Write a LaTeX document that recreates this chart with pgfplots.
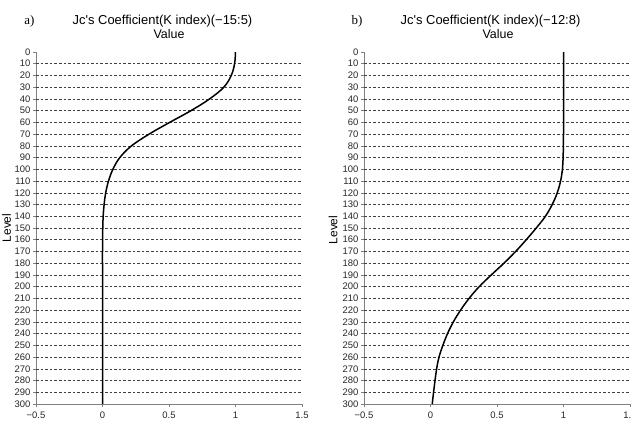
\documentclass[border=0pt]{standalone}
\usepackage{pgfplots}
\pgfplotsset{compat=1.18}
\usepackage{pgfplotstable}
\usepackage{fontspec}
\setmainfont{Liberation Sans}
\newfontfamily\serif{Liberation Serif}

\pgfplotstableread{
val lev
1.000 0
0.993 10
0.968 20
0.912 30
0.805 40
0.665 50
0.505 60
0.350 70
0.218 80
0.130 90
0.078 100
0.045 110
0.024 120
0.012 130
0.005 140
0.002 150
0.001 160
0.000 170
0.000 180
0.000 190
0.000 200
0.000 210
0.000 220
0.000 230
0.000 240
0.000 250
0.000 260
0.000 270
0.000 280
0.000 290
0.000 300
}\dataA

\pgfplotstableread{
val lev
1.000 0
1.000 10
1.000 20
1.000 30
1.000 40
1.000 50
1.000 60
1.000 70
0.999 80
0.997 90
0.992 100
0.978 110
0.953 120
0.915 130
0.864 140
0.795 150
0.720 160
0.640 170
0.552 180
0.457 190
0.366 200
0.290 210
0.226 220
0.172 230
0.128 240
0.093 250
0.064 260
0.046 270
0.034 280
0.023 290
0.013 300
}\dataB

\pgfplotsset{myax/.style={
  width=266bp, height=352bp, scale only axis,
  xmin=-0.5, xmax=1.5, ymin=0, ymax=300, y dir=reverse,
  axis x line*=bottom, axis y line*=left,
  axis line style={black!50, line width=0.8bp, -},
  xtick={-0.5,0,0.5,1,1.5}, xticklabels={−0.5,0,0.5,1,1.5},
  ytick={0,10,...,300},
  extra y ticks={10,20,...,290}, extra y tick labels={},
  extra y tick style={grid=major, major tick length=0pt},
  grid style={black!75, line width=0.6bp, dash pattern=on 2.6bp off 2bp},
  tick align=outside, major tick length=3bp,
  tick style={black!50, line width=0.6bp},
  /pgf/number format/assume math mode=true,
  tick label style={font=\fontsize{9.5}{10}\selectfont, text=black!85},
  yticklabel style={xshift=1bp},
  xticklabel style={yshift=-1bp},
}}

\begin{document}
\begin{tikzpicture}
\path[use as bounding box] (0,0) rectangle (631bp,434bp);
\begin{axis}[myax, at={(36bp,30bp)}, anchor=south west]
\addplot[black, line width=1.5bp, smooth, tension=0.6] table[x=val, y=lev] {\dataA};
\end{axis}
\begin{axis}[myax, at={(364bp,30bp)}, anchor=south west]
\addplot[black, line width=1.5bp, smooth, tension=0.6] table[x=val, y=lev] {\dataB};
\end{axis}
\node[font=\fontsize{13}{15}\selectfont] at (162.5bp,413bp) {Jc\textquotesingle s Coefficient(K index)(−15:5)};
\node[font=\fontsize{12.5}{14}\selectfont] at (169bp,400bp) {Value};
\node[font=\serif\fontsize{13}{15}\selectfont] at (29.5bp,413bp) {a)};
\node[font=\fontsize{12}{14}\selectfont, rotate=90] at (6.5bp,206bp) {Level};
\node[font=\fontsize{13}{15}\selectfont] at (490.5bp,413bp) {Jc\textquotesingle s Coefficient(K index)(−12:8)};
\node[font=\fontsize{12.5}{14}\selectfont] at (498bp,400bp) {Value};
\node[font=\serif\fontsize{13}{15}\selectfont] at (357bp,413bp) {b)};
\node[font=\fontsize{12}{14}\selectfont, rotate=90] at (333bp,204bp) {Level};
\end{tikzpicture}
\end{document}
